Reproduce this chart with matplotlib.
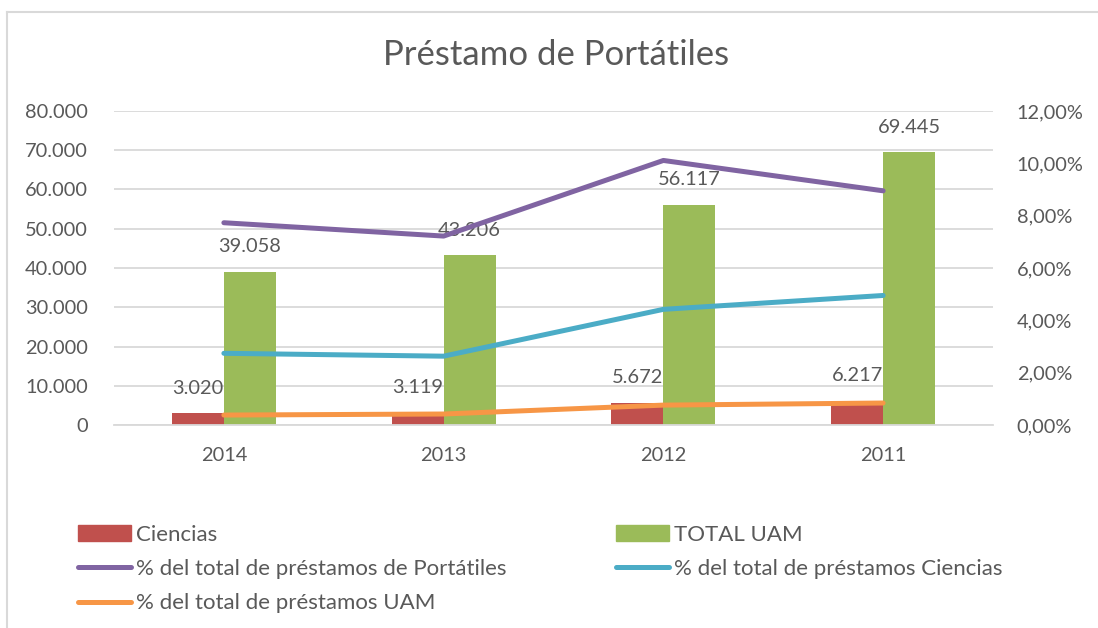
import matplotlib
matplotlib.use("Agg")
from matplotlib import pyplot as plt
from matplotlib.patches import Patch
from matplotlib.lines import Line2D
from matplotlib.ticker import FuncFormatter
import numpy as np

plt.rcParams['font.family'] = ['Lato', 'DejaVu Sans']

years = ["2014", "2013", "2012", "2011"]
ciencias = [3020, 3119, 5672, 6217]
total_uam = [39058, 43206, 56117, 69445]
pct_portatiles = [7.73, 7.22, 10.11, 8.95]
pct_ciencias = [2.74, 2.63, 4.42, 4.95]
pct_uam = [0.38, 0.42, 0.76, 0.84]

c_red = "#C0504D"
c_green = "#9BBB59"
c_purple = "#8064A2"
c_blue = "#4BACC6"
c_orange = "#F79646"
c_text = "#595959"
c_grid = "#D9D9D9"

W, H = 1098, 628
fig = plt.figure(figsize=(W / 100, H / 100), dpi=100)

# caja de ejes en pixeles: x 114..993, y 111..425
ax = fig.add_axes([114 / W, (H - 425) / H, (993 - 114) / W, (425 - 111) / H])
x = np.arange(len(years))
bw = 0.237

b1 = ax.bar(x - bw / 2, ciencias, bw, color=c_red, zorder=2)
b2 = ax.bar(x + bw / 2, total_uam, bw, color=c_green, zorder=2)

fmt_miles = lambda v: f"{int(v):,}".replace(",", ".")
for bars, vals in ((b1, ciencias), (b2, total_uam)):
    for r, v in zip(bars, vals):
        ax.annotate(fmt_miles(v), (r.get_x() + r.get_width() / 2, v),
                    xytext=(0, 18), textcoords="offset points",
                    ha="center", va="center", fontsize=14.4, color=c_text)

ax.set_ylim(0, 80000)
ax.set_yticks(range(0, 80001, 10000))
ax.yaxis.set_major_formatter(FuncFormatter(lambda v, p: fmt_miles(v)))
ax.set_xlim(-0.5, 3.5)
ax.set_xticks(x)
ax.set_xticklabels(years)
ax.grid(axis="y", color=c_grid, linewidth=1.3, zorder=0)
ax.set_axisbelow(True)
for s in ("left", "right", "top"):
    ax.spines[s].set_visible(False)
ax.spines["bottom"].set_color(c_grid)
ax.spines["bottom"].set_linewidth(1.3)
ax.tick_params(axis="both", length=0, labelsize=14.4, labelcolor=c_text)
ax.tick_params(axis="y", pad=19)
ax.tick_params(axis="x", pad=16)

ax2 = ax.twinx()
ax2.plot(x, pct_portatiles, color=c_purple, lw=3.6, solid_capstyle="round", solid_joinstyle="round")
ax2.plot(x, pct_ciencias, color=c_blue, lw=3.6, solid_capstyle="round", solid_joinstyle="round")
ax2.plot(x, pct_uam, color=c_orange, lw=3.6, solid_capstyle="round", solid_joinstyle="round")
ax2.set_ylim(0, 12)
ax2.set_yticks(range(0, 13, 2))
ax2.yaxis.set_major_formatter(FuncFormatter(lambda v, p: f"{v:.2f}%".replace(".", ",")))
for s in ax2.spines.values():
    s.set_visible(False)
ax2.tick_params(axis="y", length=0, labelsize=14.4, labelcolor=c_text, pad=17)

fig.text(556 / W, 1 - 55 / H, "Préstamo de Portátiles", ha="center", va="center",
         fontsize=25, color=c_text)

handles = [
    Patch(color=c_red),
    Line2D([], [], color=c_purple, lw=3.6, solid_capstyle="round"),
    Line2D([], [], color=c_orange, lw=3.6, solid_capstyle="round"),
    Patch(color=c_green),
    Line2D([], [], color=c_blue, lw=3.6, solid_capstyle="round"),
]
labels = ["Ciencias", "% del total de préstamos de Portátiles", "% del total de préstamos UAM",
          "TOTAL UAM", "% del total de préstamos Ciencias"]
fig.legend(handles, labels, ncol=2, loc="upper left", bbox_to_anchor=(78 / W, 1 - 525 / H),
           frameon=False, fontsize=16, labelcolor=c_text, handlelength=2.4,
           handletextpad=0.23, columnspacing=4.9, labelspacing=0.64, borderpad=0,
           borderaxespad=0)

# marco del gráfico (solo se ve arriba e izquierda)
fig.add_artist(Line2D([7 / W, 7 / W], [0, 1 - 12 / H], color=c_grid, lw=1.5))
fig.add_artist(Line2D([7 / W, 1], [1 - 12 / H, 1 - 12 / H], color=c_grid, lw=1.5))

fig.savefig("out.png", dpi=100)
